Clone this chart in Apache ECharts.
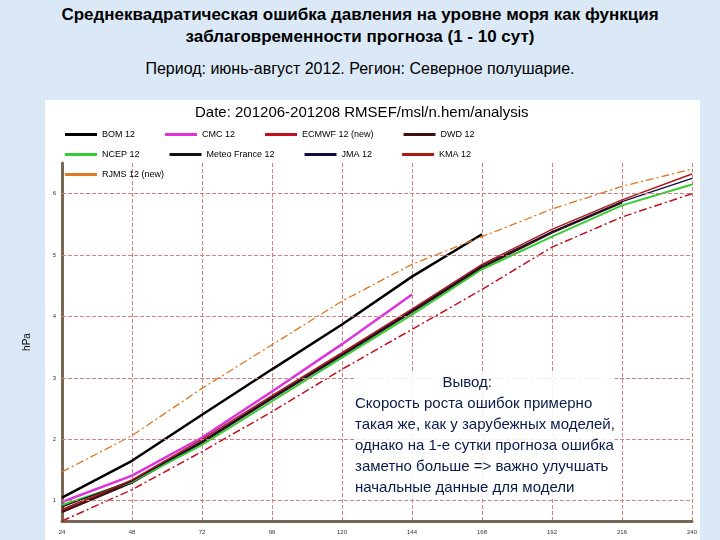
<!DOCTYPE html>
<html><head><meta charset="utf-8">
<script src="https://cdn.jsdelivr.net/npm/echarts@6/dist/echarts.min.js"></script>
<style>
body{margin:0;background:#dbe9f7;}
#t1{position:absolute;left:0;top:4px;width:720px;text-align:center;font:bold 17px "Liberation Sans",Arial;color:#000;line-height:22px}
#t2{position:absolute;left:0;top:60px;width:720px;text-align:center;font:16px "Liberation Sans",Arial;color:#000}
#panel{position:absolute;left:45px;top:100px;width:655px;height:440px;background:#fff}
#c{position:absolute;left:0;top:0;width:720px;height:540px}
</style></head><body>
<div id="t1">Среднеквадратическая ошибка давления на уровне моря как функция<br>заблаговременности прогноза (1 - 10 сут)</div>
<div id="t2">Период: июнь-август 2012.  Регион: Северное полушарие.</div>
<div id="panel"></div>
<div id="c"></div>
<script>
var hours = [24, 48, 72, 96, 120, 144, 168, 192, 216, 240];
var yTicks = [1, 2, 3, 4, 5, 6];
var bom = [1.05, 1.65, 2.4, 3.14, 3.87, 4.65, 5.34];
var cmc = [0.98, 1.41, 2.03, 2.78, 3.55, 4.36];
var ecmwf = [0.67, 1.18, 1.8, 2.45, 3.14, 3.79, 4.44, 5.13, 5.62, 6.0];
var dwd = [0.82, 1.3, 1.95, 2.67, 3.37, 4.08, 4.8, 5.37, 5.86];
var ncep = [0.93, 1.31, 1.91, 2.62, 3.33, 4.03, 4.77, 5.3, 5.81, 6.15];
var meteo = [0.9, 1.33, 1.97, 2.69, 3.39, 4.1, 4.82];
var jma = [0.86, 1.32, 1.96, 2.68, 3.38, 4.09, 4.83, 5.38, 5.87, 6.25];
var kma = [0.85, 1.34, 2.0, 2.71, 3.41, 4.12, 4.85, 5.42, 5.9, 6.32];
var rjms = [1.47, 2.06, 2.83, 3.54, 4.25, 4.85, 5.3, 5.75, 6.12, 6.4];

var chart = echarts.init(document.getElementById('c'));
function pairs(arr) {
    return arr.map(function (v, i) { return [hours[i], v]; });
}
function ser(name, arr, color, width, type) {
    return {
        name: name, type: 'line', data: pairs(arr), symbol: 'none',
        lineStyle: {color: color, width: width, type: type || 'solid'},
        itemStyle: {color: color}, z: 3
    };
}
var dashDot = [8, 3, 2, 3];
var series = [
    ser('BOM 12', bom, '#000000', 2.5),
    ser('CMC 12', cmc, '#dd33dd', 2.5),
    ser('ECMWF 12 (new)', ecmwf, '#c01020', 1.5, dashDot),
    ser('DWD 12', dwd, '#401010', 2.5),
    ser('NCEP 12', ncep, '#33cc33', 2),
    ser('Meteo France 12', meteo, '#111111', 1.2),
    ser('JMA 12', jma, '#101040', 1.2),
    ser('KMA 12', kma, '#b01818', 1.5),
    ser('RJMS 12 (new)', rjms, '#dd7722', 1.3, dashDot)
];
// горизонтальная сетка по целым hPa
series[0].markLine = {
    silent: true, symbol: 'none',
    lineStyle: {color: '#d08080', type: 'dashed', width: 1},
    label: {position: 'start', fontSize: 6, color: '#333', distance: 6},
    data: yTicks.map(function (v) { return {yAxis: v}; })
};
function legendRow(names, top) {
    return {
        data: names, left: 60, top: top, itemGap: 30, itemWidth: 32, itemHeight: 3, icon: 'rect',
        textStyle: {fontSize: 9, color: '#000', width: 100, overflow: 'truncate'}
    };
}
chart.setOption({
    animation: false,
    title: {
        text: 'Date: 201206-201208 RMSEF/msl/n.hem/analysis', left: 190, top: 100,
        textStyle: {fontSize: 15, fontWeight: 'normal', color: '#000', fontFamily: 'Liberation Sans'}
    },
    legend: [
        legendRow(['BOM 12', 'CMC 12', 'ECMWF 12 (new)', 'DWD 12'], 125),
        legendRow(['NCEP 12', 'Meteo France 12', 'JMA 12', 'KMA 12'], 145),
        legendRow(['RJMS 12 (new)'], 165)
    ],
    grid: {left: 62, right: 28, top: 163, bottom: 19},
    xAxis: {
        type: 'value', min: 24, max: 240, interval: 24,
        axisLine: {lineStyle: {color: '#776655', width: 3}},
        axisTick: {show: false},
        axisLabel: {fontSize: 6, color: '#333'},
        splitLine: {lineStyle: {color: '#d08080', type: 'dashed'}}
    },
    yAxis: {
        type: 'value', min: 0.67, max: 6.5,
        name: 'hPa', nameLocation: 'middle', nameGap: 30, nameRotate: 90,
        nameTextStyle: {fontSize: 10, color: '#000'},
        axisLine: {lineStyle: {color: '#776655', width: 3}},
        axisTick: {show: false},
        axisLabel: {show: false},
        splitLine: {show: false}
    },
    series: series,
    graphic: [{
        type: 'text', left: 355, top: 372,
        style: {
            text: '                     Вывод:\nСкорость роста ошибок примерно\nтакая же, как у зарубежных моделей,\nоднако на 1-е сутки прогноза ошибка\nзаметно больше => важно улучшать\nначальные данные для модели',
            font: '15px "Liberation Sans"', fill: '#0a1a4a', lineHeight: 21,
            backgroundColor: 'rgba(255,255,255,0.85)'
        }, z: 10
    }]
});
</script>
</body></html>
